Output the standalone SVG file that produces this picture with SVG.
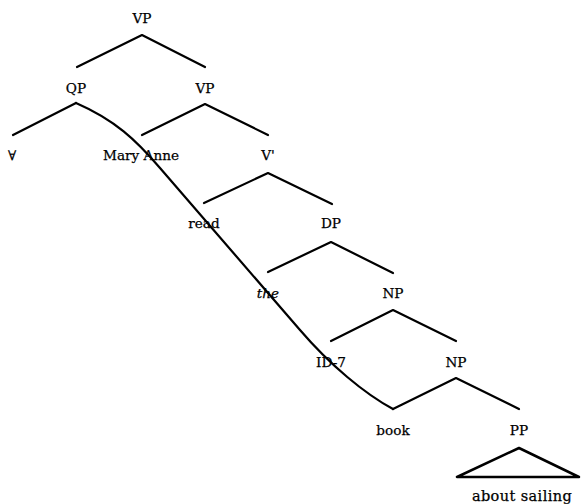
<svg xmlns="http://www.w3.org/2000/svg" width="581" height="504" viewBox="0 0 581 504">
<style>
text{font-family:"DejaVu Serif","Liberation Serif",serif;font-size:13.6px;fill:#000;stroke:#000;stroke-width:0.25;text-anchor:middle}
.it{font-style:italic}
.big{font-family:"DejaVu Serif","Liberation Serif",serif;font-size:14.5px;letter-spacing:0.4px}
.e{stroke:#000;stroke-width:2.2;fill:none;stroke-linecap:round;stroke-linejoin:round}
</style>
<rect width="581" height="504" fill="#fff"/>
<g id="connectors" class="e">
<path d="M77,67 L142,35 L205,67"/>
<path d="M13,135 L76,103"/>
<path d="M142,135 L205,104 L268,135"/>
<path d="M204,203 L268,173 L332,204"/>
<path d="M268,272 L331,242 L393,273"/>
<path d="M331,341 L393,310 L456,341"/>
<path d="M393,409 L456,378 L519,409"/>
<path d="M76,103 C115,120 136,140 160,168 L300,330 C330,365 365,394 393,409"/>
<path d="M519,448 L457,477 L579,477 Z" stroke-width="2.5"/>
</g>
<g id="n-vp-top"><text x="142" y="23">VP</text></g>
<g id="n-qp"><text x="76" y="93">QP</text></g>
<g id="n-vp"><text x="205" y="93">VP</text></g>
<g id="n-forall"><text x="12" y="160">∀</text></g>
<g id="n-maryanne"><text x="141" y="160">Mary Anne</text></g>
<g id="n-vbar"><text x="268" y="160">V'</text></g>
<g id="n-read"><text x="204" y="228">read</text></g>
<g id="n-dp"><text x="331" y="228">DP</text></g>
<g id="n-the"><text class="it" x="268" y="298">the</text></g>
<g id="n-np1"><text x="393" y="298">NP</text></g>
<g id="n-id7"><text x="331" y="367">ID-7</text></g>
<g id="n-np2"><text x="456" y="367">NP</text></g>
<g id="n-book"><text x="393" y="435">book</text></g>
<g id="n-pp"><text x="519" y="435">PP</text></g>
<g id="n-about"><text class="big" x="522" y="501">about sailing</text></g>
</svg>
